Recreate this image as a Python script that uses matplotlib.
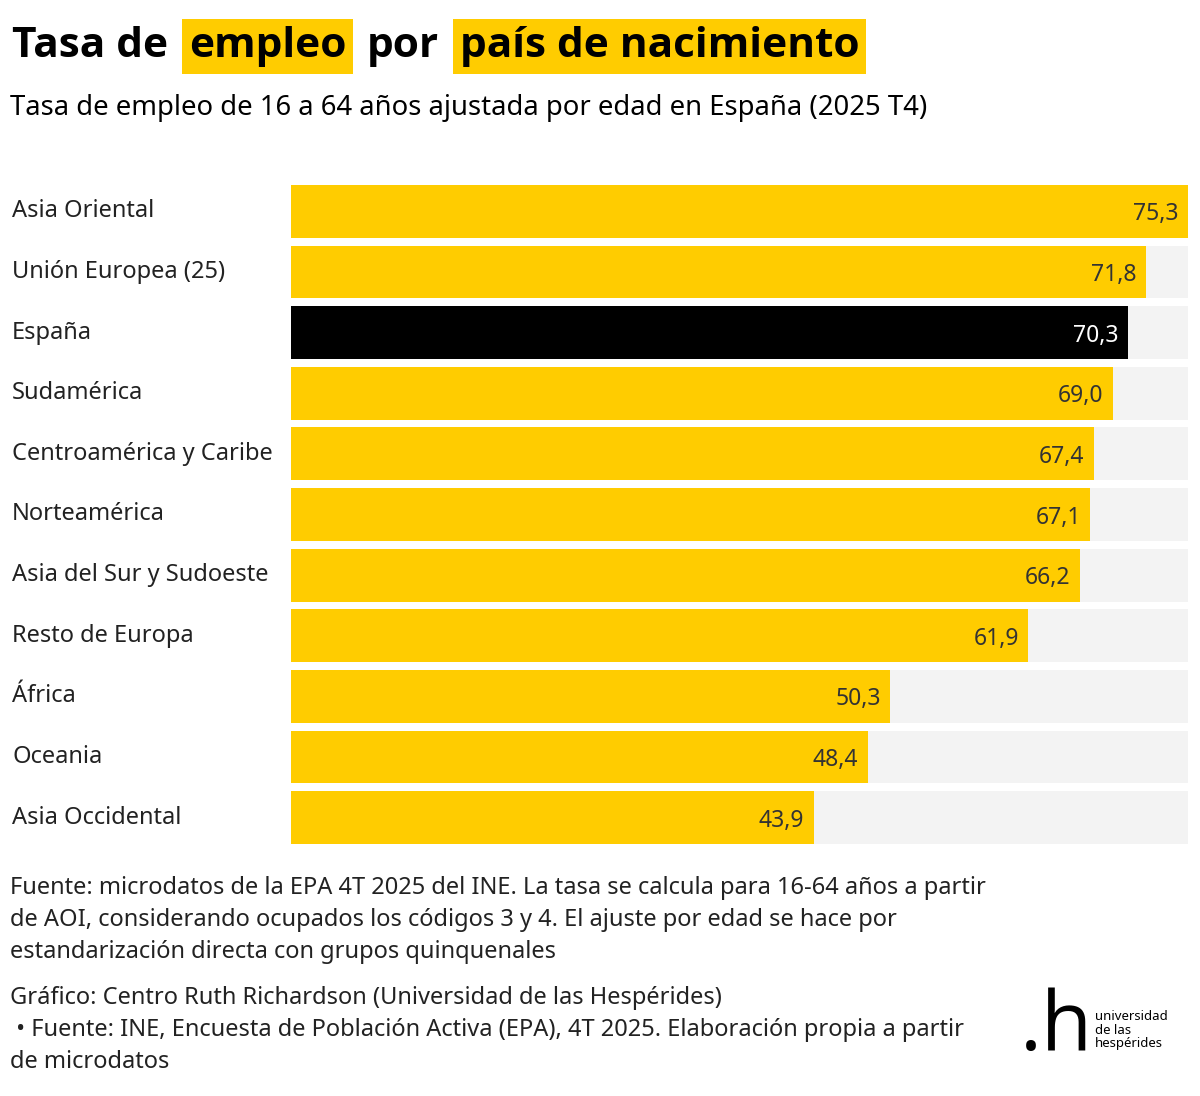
import matplotlib
matplotlib.use("Agg")
import matplotlib.pyplot as plt

regions = ["Asia Oriental", "Unión Europea (25)", "España", "Sudamérica",
           "Centroamérica y Caribe", "Norteamérica", "Asia del Sur y Sudoeste",
           "Resto de Europa", "África", "Oceania", "Asia Occidental"]
rates = [75.3, 71.8, 70.3, 69.0, 67.4, 67.1, 66.2, 61.9, 50.3, 48.4, 43.9]
highlight = "España"

YELLOW = "#ffcc00"
plt.rcParams["font.family"] = ["Noto Sans", "DejaVu Sans"]
BOLD = ["Open Sans", "DejaVu Sans"]

W, H = 1200, 1096
fig = plt.figure(figsize=(W / 100, H / 100), dpi=100)

# title with highlighted words, laid out piece by piece
pieces = [("Tasa de", False), ("empleo", True), ("por", False), ("país de nacimiento", True)]
renderer = fig.canvas.get_renderer()
x = 12 / W
for txt, hl in pieces:
    kw = dict(fontsize=30.5, fontweight="bold", family=BOLD, va="baseline", color="black")
    if hl:
        kw["bbox"] = dict(facecolor=YELLOW, edgecolor="none", pad=5)
        x += 8 / W
    t = fig.text(x, 1 - 57 / H, txt, **kw)
    w = t.get_window_extent(renderer).width
    x += (w + (20 if hl else 13)) / W

fig.text(10 / W, 1 - 108 / H, "Tasa de empleo de 16 a 64 años ajustada por edad en España (2025 T4)",
         fontsize=19.8, va="center")

ax = fig.add_axes([291 / W, 1 - 848 / H, 897 / W, (848 - 181) / H])
y = list(range(len(regions)))
ax.barh(y, [max(rates)] * len(rates), height=0.87, color="#f3f3f3", zorder=1)
for yi, r, v in zip(y, regions, rates):
    c = "black" if r == highlight else YELLOW
    ax.barh(yi, v, height=0.87, color=c, zorder=2)
    ax.text(v - 0.8, yi + 0.05, f"{v:.1f}".replace(".", ","), ha="right", va="center",
            fontsize=16.5, color="white" if r == highlight else "#333333", zorder=3)
ax.set_xlim(0, max(rates))
ax.set_ylim(len(regions) - 0.5, -0.5)
ax.axis("off")
for yi, r in zip(y, regions):
    ax.text(-279 / 897 * max(rates), yi, r, ha="left", va="center", fontsize=17, color="#222222")

foot = ("Fuente: microdatos de la EPA 4T 2025 del INE. La tasa se calcula para 16-64 años a partir\n"
        "de AOI, considerando ocupados los códigos 3 y 4. El ajuste por edad se hace por\n"
        "estandarización directa con grupos quinquenales")
fig.text(10 / W, 1 - 876 / H, foot, fontsize=17, va="top", linespacing=1.45, color="#222222")
credit = ("Gráfico: Centro Ruth Richardson (Universidad de las Hespérides)\n"
          " • Fuente: INE, Encuesta de Población Activa (EPA), 4T 2025. Elaboración propia a partir\n"
          "de microdatos")
fig.text(10 / W, 1 - 986 / H, credit, fontsize=17, va="top", linespacing=1.45, color="#222222")

# logo
fig.text(1020 / W, 1 - 1050 / H, ".h", fontsize=60, family=BOLD, va="baseline")
fig.text(1095 / W, 1 - 1030 / H, "universidad\nde las\nhespérides", fontsize=9.5,
         va="center", linespacing=1.1)

fig.savefig("out.png", dpi=100)
